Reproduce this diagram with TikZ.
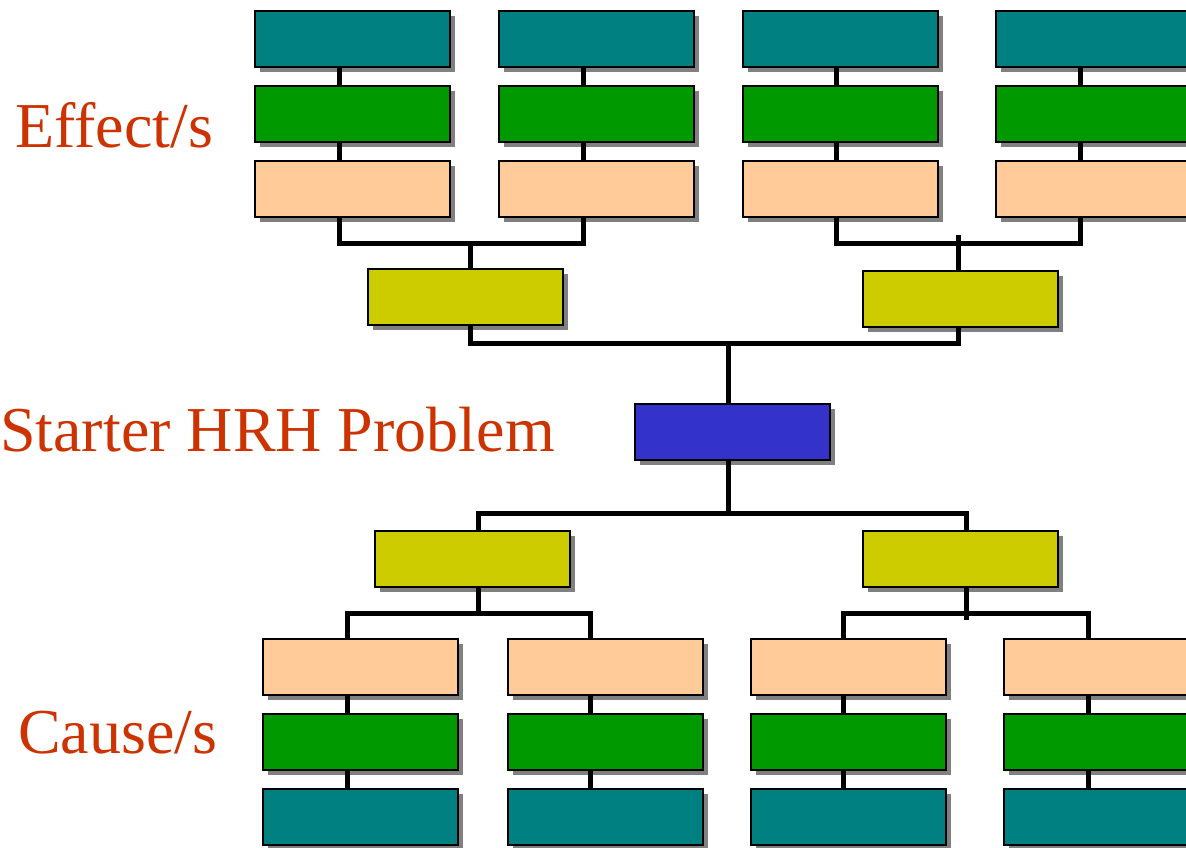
\documentclass[tikz,border=0pt]{standalone}
\usepackage{fontspec}
\setmainfont{Liberation Serif}
\usetikzlibrary{shadows}
\newlength{\du}
\setlength{\du}{10\unitlength}
\definecolor{tealbox}{rgb}{0.000000, 0.501961, 0.501961}
\definecolor{greenbox}{rgb}{0.000000, 0.600000, 0.000000}
\definecolor{peachbox}{rgb}{1.000000, 0.800000, 0.600000}
\definecolor{olivebox}{rgb}{0.800000, 0.800000, 0.000000}
\definecolor{bluebox}{rgb}{0.200000, 0.200000, 0.800000}
\definecolor{shadowgray}{rgb}{0.501961, 0.501961, 0.501961}
\definecolor{labelcolor}{rgb}{0.800000, 0.200000, 0.000000}
\tikzset{
  box/.style={draw=black, line width=0.2\du, anchor=north west, inner sep=0pt, outer sep=0pt,
    minimum width=19.5\du, minimum height=5.6\du,
    drop shadow={shadow xshift=0.5\du, shadow yshift=-0.5\du, fill=shadowgray, opacity=1}},
  link/.style={draw=black, line width=0.5\du, line join=miter},
  side/.style={anchor=base west, inner sep=0pt, text=labelcolor, font=\fontsize{64}{70}\selectfont},
}

\begin{document}
\begin{tikzpicture}
\pgftransformxscale{1.000000}
\pgftransformyscale{-1.000000}
\useasboundingbox (0\du,0\du) rectangle (118.6\du,84.8\du);
% effect columns
\node[box, fill=tealbox]  (e1t) at (25.5\du,1.1\du) {};
\node[box, fill=greenbox] (e1g) at (25.5\du,8.6\du) {};
\node[box, fill=peachbox] (e1p) at (25.5\du,16.1\du) {};
\node[box, fill=tealbox]  (e2t) at (49.9\du,1.1\du) {};
\node[box, fill=greenbox] (e2g) at (49.9\du,8.6\du) {};
\node[box, fill=peachbox] (e2p) at (49.9\du,16.1\du) {};
\node[box, fill=tealbox]  (e3t) at (74.3\du,1.1\du) {};
\node[box, fill=greenbox] (e3g) at (74.3\du,8.6\du) {};
\node[box, fill=peachbox] (e3p) at (74.3\du,16.1\du) {};
\node[box, fill=tealbox]  (e4t) at (99.6\du,1.1\du) {};
\node[box, fill=greenbox] (e4g) at (99.6\du,8.6\du) {};
\node[box, fill=peachbox] (e4p) at (99.6\du,16.1\du) {};
\node[box, fill=olivebox] (ye1) at (36.8\du,26.9\du) {};
\node[box, fill=olivebox] (ye2) at (86.3\du,27.1\du) {};
% starter problem
\node[box, fill=bluebox]  (hrh) at (63.5\du,40.4\du) {};
% cause columns
\node[box, fill=olivebox] (yc1) at (37.5\du,53.1\du) {};
\node[box, fill=olivebox] (yc2) at (86.3\du,53.1\du) {};
\node[box, fill=peachbox] (c1p) at (26.3\du,63.9\du) {};
\node[box, fill=greenbox] (c1g) at (26.3\du,71.4\du) {};
\node[box, fill=tealbox]  (c1t) at (26.3\du,78.9\du) {};
\node[box, fill=peachbox] (c2p) at (50.8\du,63.9\du) {};
\node[box, fill=greenbox] (c2g) at (50.8\du,71.4\du) {};
\node[box, fill=tealbox]  (c2t) at (50.8\du,78.9\du) {};
\node[box, fill=peachbox] (c3p) at (75.1\du,63.9\du) {};
\node[box, fill=greenbox] (c3g) at (75.1\du,71.4\du) {};
\node[box, fill=tealbox]  (c3t) at (75.1\du,78.9\du) {};
\node[box, fill=peachbox] (c4p) at (100.4\du,63.9\du) {};
\node[box, fill=greenbox] (c4g) at (100.4\du,71.4\du) {};
\node[box, fill=tealbox]  (c4t) at (100.4\du,78.9\du) {};
% junctions
\coordinate (ja) at (47.0\du,24.3\du);
\coordinate (jb) at (95.8\du,24.3\du);
\coordinate (jbtop) at (95.8\du,23.5\du);
\coordinate (jm) at (72.8\du,34.3\du);
\coordinate (jn) at (72.8\du,51.3\du);
\coordinate (jc) at (47.8\du,61.3\du);
\coordinate (jd) at (96.6\du,61.3\du);
\coordinate (jdbot) at (96.6\du,62.0\du);
% effect links
\draw[link] ([xshift=-1.35\du]e1t.south) -- ([xshift=-1.35\du]e1g.north);
\draw[link] ([xshift=-1.35\du]e1g.south) -- ([xshift=-1.35\du]e1p.north);
\draw[link] ([xshift=-1.35\du]e2t.south) -- ([xshift=-1.35\du]e2g.north);
\draw[link] ([xshift=-1.35\du]e2g.south) -- ([xshift=-1.35\du]e2p.north);
\draw[link] ([xshift=-0.45\du]e3t.south) -- ([xshift=-0.45\du]e3g.north);
\draw[link] ([xshift=-0.45\du]e3g.south) -- ([xshift=-0.45\du]e3p.north);
\draw[link] ([xshift=-1.35\du]e4t.south) -- ([xshift=-1.35\du]e4g.north);
\draw[link] ([xshift=-1.35\du]e4g.south) -- ([xshift=-1.35\du]e4p.north);
\draw[link] ([xshift=-1.35\du]e1p.south) |- (ja) -| ([xshift=-1.35\du]e2p.south);
\draw[link] (ja) -- (ja |- ye1.north);
\draw[link] ([xshift=-0.45\du]e3p.south) |- (jb) -| ([xshift=-1.35\du]e4p.south);
\draw[link] (jbtop) -- (jbtop |- ye2.north);
\draw[link] (ye1.south -| ja) |- (jm) -| (ye2.south -| jb);
\draw[link] (jm) -- (jm |- hrh.north);
% cause links
\draw[link] (hrh.south -| jn) -- (jn);
\draw[link] (yc1.north -| jc) |- (jn) -| (yc2.north -| jd);
\draw[link] (yc1.south -| jc) -- (jc);
\draw[link] ([xshift=-1.35\du]c1p.north) |- (jc) -| ([xshift=-1.55\du]c2p.north);
\draw[link] (yc2.south -| jd) -- (jdbot);
\draw[link] ([xshift=-0.55\du]c3p.north) |- (jd) -| ([xshift=-1.35\du]c4p.north);
\draw[link] ([xshift=-1.35\du]c1p.south) -- ([xshift=-1.35\du]c1g.north);
\draw[link] ([xshift=-1.35\du]c1g.south) -- ([xshift=-1.35\du]c1t.north);
\draw[link] ([xshift=-1.55\du]c2p.south) -- ([xshift=-1.55\du]c2g.north);
\draw[link] ([xshift=-1.55\du]c2g.south) -- ([xshift=-1.55\du]c2t.north);
\draw[link] ([xshift=-0.55\du]c3p.south) -- ([xshift=-0.55\du]c3g.north);
\draw[link] ([xshift=-0.55\du]c3g.south) -- ([xshift=-0.55\du]c3t.north);
\draw[link] ([xshift=-1.35\du]c4p.south) -- ([xshift=-1.35\du]c4g.north);
\draw[link] ([xshift=-1.35\du]c4g.south) -- ([xshift=-1.35\du]c4t.north);
% side labels
\node[side] (effects) at (1.5\du,14.7\du) {Effect/s};
\node[side] (starter) at (0.0\du,45.1\du) {Starter HRH Problem};
\node[side] (causes) at (1.8\du,75.3\du) {Cause/s};
\end{tikzpicture}
\end{document}
